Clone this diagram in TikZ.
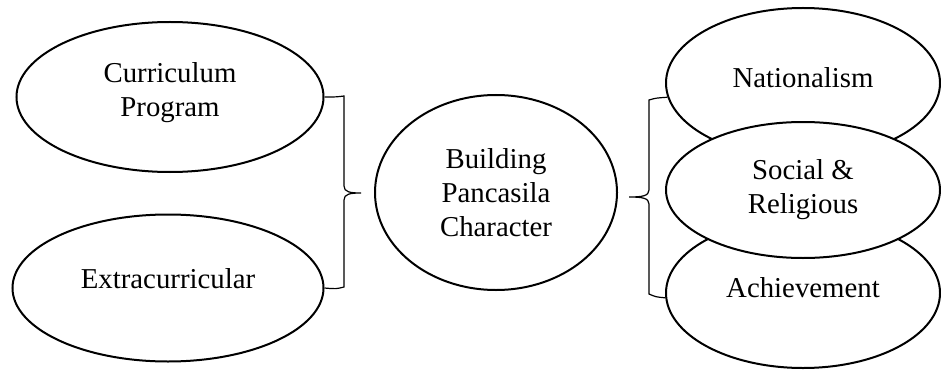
\documentclass[tikz,border=0pt]{standalone}
\usepackage{fontspec}
\setmainfont{Liberation Serif}
\usetikzlibrary{shapes.geometric}

\begin{document}
\begin{tikzpicture}[
    x=0.5pt, y=-0.5pt,
    font=\fontsize{14.4}{17}\selectfont,
    oval/.style={ellipse, draw, line width=1pt, fill=white, inner sep=0pt, align=center},
    bracket/.style={line width=0.6pt}
]
\useasboundingbox (0,0) rectangle (941,369);

% left side
\node[oval, minimum width=153.5pt, minimum height=75pt, text depth=7pt] (curr) at (170,97) {Curriculum\\Program};
\node[oval, minimum width=155.5pt, minimum height=73.5pt, text depth=9pt] (extra) at (168,288) {Extracurricular};

% middle
\node[oval, minimum width=121pt, minimum height=97.5pt] (build) at (496,192.5) {Building\\Pancasila\\Character};

% right side, the middle one on top
\node[oval, minimum width=137pt, minimum height=75pt, text depth=5pt] (nat) at (803,83) {Nationalism};
\node[oval, minimum width=137pt, minimum height=75pt, text depth=5pt] (ach) at (803,293) {Achievement};
\node[oval, minimum width=137pt, minimum height=68pt] (soc) at (803,190) {Social \&\\Religious};

% braces
\draw[bracket] (curr.east) .. controls (336,97) .. (344,96) -- (344,186)
    .. controls (344,192) and (350,193) .. (361,193)
    .. controls (350,193) and (344,194) .. (344,200) -- (344,287)
    .. controls (336,289) .. (extra.east);
\draw[bracket] (nat.186) .. controls (656,98) .. (649,100) -- (649,190)
    .. controls (649,196) and (642,197) .. (629,197)
    .. controls (642,197) and (649,198) .. (649,204) -- (649,294)
    .. controls (656,297) .. (ach.182);

\end{tikzpicture}
\end{document}
